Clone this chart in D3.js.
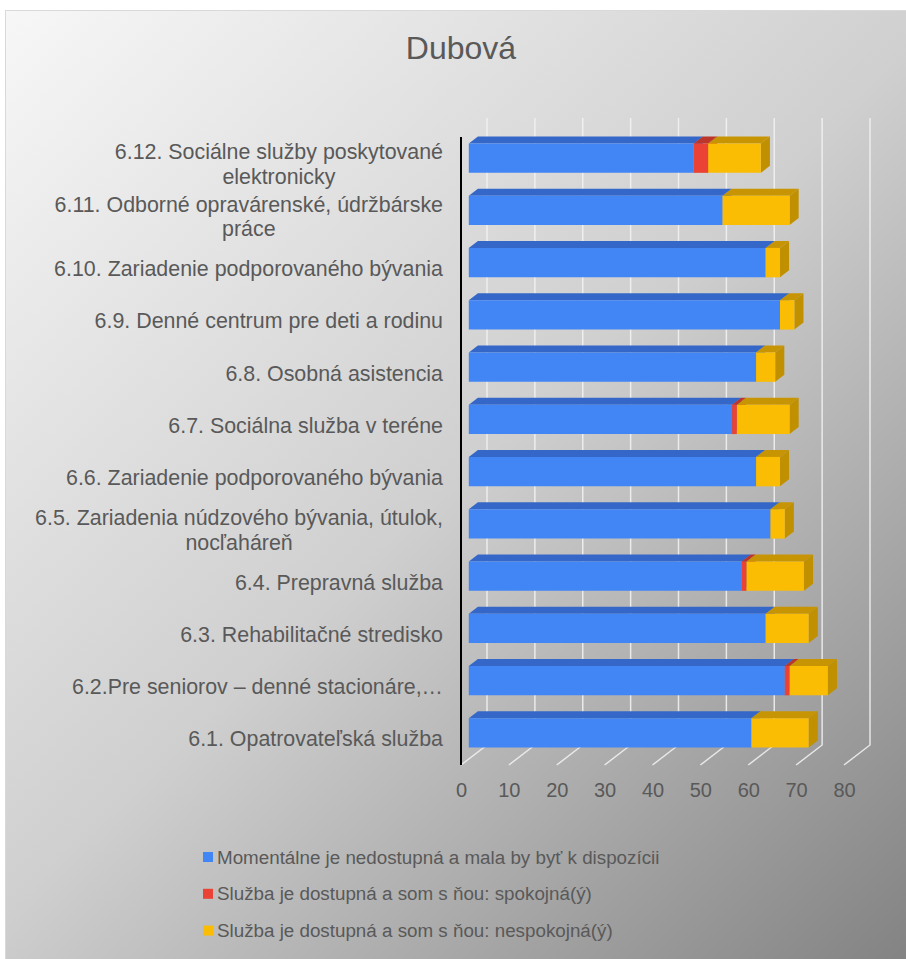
<!DOCTYPE html>
<html>
<head>
<meta charset="utf-8">
<script src="https://d3js.org/d3.v7.min.js"></script>
<style>
  html, body { margin: 0; padding: 0; background: #fff; }
  svg text { font-family: "Liberation Sans", Arial, sans-serif; fill: #595959; }
</style>
</head>
<body>
<div id="chart"></div>
<script>
// Dubová - stacked 3D bar chart
const categories = [
    "6.1. Opatrovateľská služba",
    "6.2.Pre seniorov – denné stacionáre,…",
    "6.3. Rehabilitačné stredisko",
    "6.4. Prepravná služba",
    "6.5. Zariadenia núdzového bývania, útulok, nocľaháreň",
    "6.6. Zariadenie podporovaného bývania",
    "6.7. Sociálna služba v teréne",
    "6.8. Osobná asistencia",
    "6.9. Denné centrum pre deti a rodinu",
    "6.10. Zariadenie podporovaného bývania",
    "6.11. Odborné opravárenské, údržbárske práce",
    "6.12. Sociálne služby poskytované elektronicky"
];
const unavailable = [59, 66, 62, 57, 63, 60, 55, 60, 65, 62, 53, 47];
const satisfied   = [0, 1, 0, 1, 0, 0, 1, 0, 0, 0, 0, 3];
const unsatisfied = [12, 8, 9, 12, 3, 5, 11, 4, 3, 3, 14, 11];
const seriesNames = [
    "Momentálne je nedostupná a mala by byť k dispozícii",
    "Služba je dostupná a som s ňou: spokojná(ý)",
    "Služba je dostupná a som s ňou: nespokojná(ý)"
];
const xTicks = [0, 10, 20, 30, 40, 50, 60, 70, 80];
const title = "Dubová";

const W = 906, H = 959;
const colors = [
    { front: "#4285f4", top: "#3467c7", side: "#3467c7" },
    { front: "#ea4335", top: "#bc362b", side: "#bc362b" },
    { front: "#fbbc04", top: "#c79503", side: "#c09000" }
];

// oblique depth of the 3D box (back is up-right)
const DX = 26, DY = -20;
const zFront = 0.3, zBack = 0.65;

const svg = d3.select("#chart").append("svg")
    .attr("width", W).attr("height", H);

const defs = svg.append("defs");
const grad = defs.append("linearGradient")
    .attr("id", "bg").attr("gradientUnits", "userSpaceOnUse")
    .attr("x1", 5).attr("y1", 10).attr("x2", W).attr("y2", H);
grad.append("stop").attr("offset", "0").attr("stop-color", "#f7f7f7");
grad.append("stop").attr("offset", "0.5").attr("stop-color", "#cfcfcf");
grad.append("stop").attr("offset", "1").attr("stop-color", "#838383");

svg.append("rect").attr("x", 5.5).attr("y", 10.5)
    .attr("width", W).attr("height", H)
    .attr("fill", "url(#bg)").attr("stroke", "#d9d9d9");

svg.append("text").attr("x", 461).attr("y", 59)
    .attr("text-anchor", "middle").style("font-size", "32px")
    .text(title);

const x = d3.scaleLinear().domain([0, 80]).range([461, 844]);
const y = d3.scaleBand().domain(categories.slice().reverse())
    .range([138, 765]).paddingInner(0.437).paddingOuter(0.2185);

const P = (v, yy, z) => [x(v) + z * DX, yy + z * DY];
const poly = pts => "M" + pts.map(p => p.join(",")).join("L") + "Z";

// back wall gridlines and floor lines
const grid = svg.append("g").attr("stroke", "#f4f4f4").attr("stroke-width", 1.5)
    .attr("fill", "none").attr("opacity", 0.85);
const floorFront = y.range()[1], wallTop = y.range()[0] + DY;
xTicks.forEach(t => {
    const b = P(t, floorFront, 1);
    const f = P(t, floorFront, 0);
    grid.append("path").attr("d", `M${b[0]},${wallTop}L${b[0]},${b[1]}L${f[0]},${f[1]}`);
});

// vertical axis line (front plane)
svg.append("line")
    .attr("x1", x(0)).attr("x2", x(0))
    .attr("y1", y.range()[0] - 1).attr("y2", floorFront)
    .attr("stroke", "#000").attr("stroke-width", 2);

// stacked 3D bars
const rows = categories.map((c, i) => ({ cat: c, s0: unavailable[i], s1: satisfied[i], s2: unsatisfied[i] }));
const stacked = d3.stack().keys(["s0", "s1", "s2"])(rows);

const bars = svg.append("g");
rows.forEach((r, i) => {
    stacked.forEach((layer, k) => {
        const d = layer[i];
        if (d[1] - d[0] <= 0) return;
        const yt = y(r.cat), yb = yt + y.bandwidth();
        const ft = P(d[0], yt, zFront), ft2 = P(d[1], yt, zFront);
        const fb = P(d[0], yb, zFront), fb2 = P(d[1], yb, zFront);
        const bt = P(d[0], yt, zBack), bt2 = P(d[1], yt, zBack);
        const bb2 = P(d[1], yb, zBack);
        bars.append("path").attr("d", poly([ft, ft2, bt2, bt])).attr("fill", colors[k].top);
        bars.append("path").attr("d", poly([ft2, fb2, bb2, bt2])).attr("fill", colors[k].side);
        bars.append("path").attr("d", poly([ft, ft2, fb2, fb])).attr("fill", colors[k].front);
    });
});

// category labels, wrapped and centered as a block, right edge at 443
const labelSize = 21.4, lineH = 24.5, maxW = 428;
const labels = svg.append("g").style("font-size", labelSize + "px");
categories.forEach(c => {
    const cy = y(c) + y.bandwidth() / 2;
    const probe = labels.append("text");
    const measure = s => { probe.text(s); return probe.node().getComputedTextLength(); };
    const words = c.split(" ");
    const lines = [];
    let cur = "";
    words.forEach(w => {
        const test = cur ? cur + " " + w : w;
        if (cur && measure(test) > maxW) { lines.push(cur); cur = w; } else cur = test;
    });
    lines.push(cur);
    const widest = d3.max(lines, measure);
    probe.remove();
    const cx = 443 - widest / 2;
    const t = labels.append("text").attr("text-anchor", "middle");
    lines.forEach((l, j) => {
        t.append("tspan").attr("x", cx)
            .attr("y", cy + (j - (lines.length - 1) / 2) * lineH)
            .attr("dy", "0.35em").text(l);
    });
});

// value axis labels
const xAxis = svg.append("g").attr("transform", "translate(0,790)")
    .call(d3.axisBottom(x).tickValues(xTicks).tickSize(0).tickPadding(0));
xAxis.select(".domain").remove();
xAxis.selectAll("text").attr("y", 0).attr("dy", "0.35em")
    .style("font-size", "20px").attr("fill", null);

// legend
const legend = svg.append("g").style("font-size", "18.8px");
seriesNames.forEach((s, k) => {
    const ly = 857 + k * 36.8;
    legend.append("rect").attr("x", 203).attr("y", ly - 5).attr("width", 10).attr("height", 10)
        .attr("fill", colors[k].front);
    legend.append("text").attr("x", 217).attr("y", ly).attr("dy", "0.35em").text(s);
});
</script>
</body>
</html>
